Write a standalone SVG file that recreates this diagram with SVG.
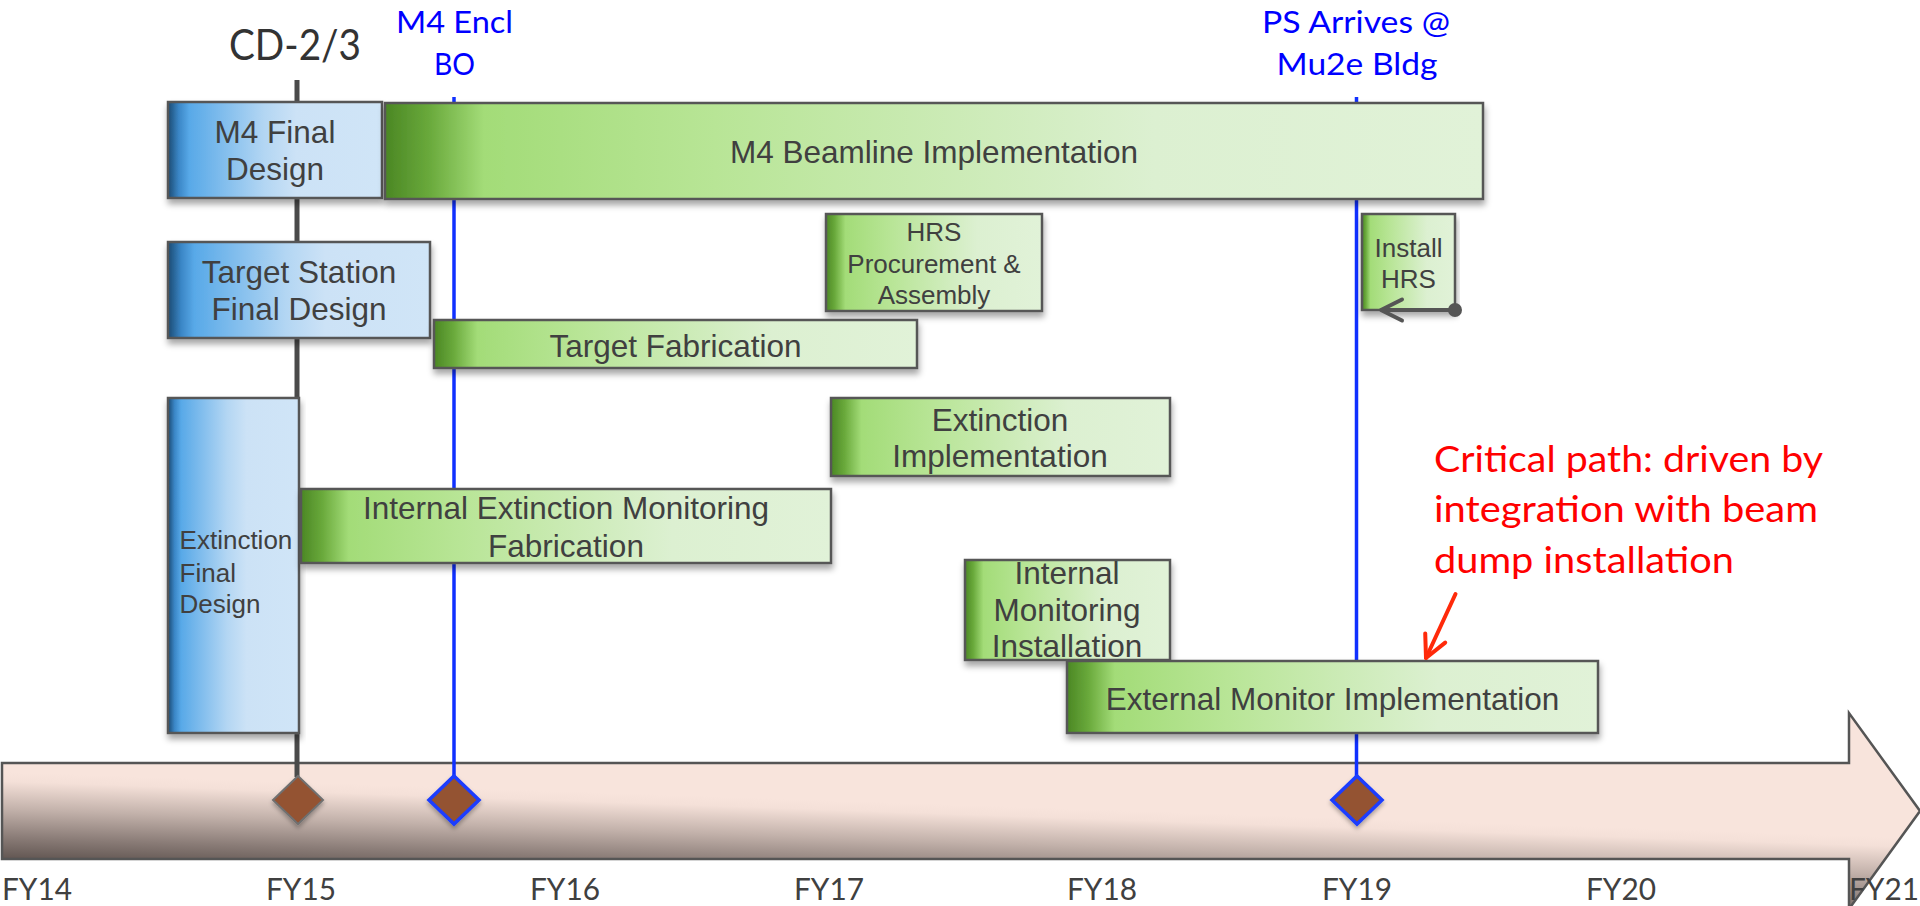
<svg xmlns="http://www.w3.org/2000/svg" width="1920" height="906" viewBox="0 0 1920 906">
  <style>
    .box { stroke: #575757; stroke-width: 2.5; filter: url(#sh); }
    .blue { fill: url(#gBlue); }
    .green { fill: url(#gGreen); }
    .lbl { font-family: "Liberation Sans", Arial, sans-serif; font-size: 31.5px; fill: #404040; text-anchor: middle; }
    .sm { font-size: 26px; }
    .cal { font-family: Lato, "Liberation Sans", sans-serif; text-anchor: middle; }
    .bluetxt { fill: #0000ff; font-size: 31px; }
    .fy { font-size: 30px; fill: #404040; }
    .note { fill: #ff0000; font-size: 37px; text-anchor: start; }
    .mline { stroke: #1030ff; stroke-width: 3.5; }
    .diamond { fill: #945233; }
  </style>
  <defs>
    <linearGradient id="gBlue" x1="0" y1="0" x2="1" y2="0">
      <stop offset="0" stop-color="#1b4a72"/>
      <stop offset="0.05" stop-color="#3a86c6"/>
      <stop offset="0.1" stop-color="#58a9e8"/>
      <stop offset="0.45" stop-color="#b3d6f3"/>
      <stop offset="0.6" stop-color="#cce2f6"/>
      <stop offset="1" stop-color="#d0e5f7"/>
    </linearGradient>
    <linearGradient id="gGreen" x1="0" y1="0" x2="1" y2="0">
      <stop offset="0" stop-color="#4b8724"/>
      <stop offset="0.04" stop-color="#69a93b"/>
      <stop offset="0.09" stop-color="#a3dc78"/>
      <stop offset="0.3" stop-color="#b8e596"/>
      <stop offset="0.7" stop-color="#dcf0d1"/>
      <stop offset="1" stop-color="#e1f2d8"/>
    </linearGradient>
    <!-- shading of the timeline bar: dark at the lower left, fading to pink -->
    <linearGradient id="gTime" gradientUnits="userSpaceOnUse" x1="0" y1="865" x2="3.2" y2="772">
      <stop offset="0" stop-color="#564b47"/>
      <stop offset="0.3" stop-color="#8a7c77"/>
      <stop offset="0.6" stop-color="#c2b1aa"/>
      <stop offset="0.9" stop-color="#f4e0d8"/>
      <stop offset="1" stop-color="#f8e4dc"/>
    </linearGradient>
    <filter id="sh" x="-5%" y="-10%" width="110%" height="140%">
      <feDropShadow dx="1" dy="5" stdDeviation="3" flood-color="#000" flood-opacity="0.35"/>
    </filter>
    <filter id="dsh" x="-30%" y="-30%" width="160%" height="160%">
      <feDropShadow dx="0" dy="3" stdDeviation="2" flood-color="#000" flood-opacity="0.3"/>
    </filter>
    <marker id="chev" markerUnits="userSpaceOnUse" viewBox="-26 -14 30 28" markerWidth="30" markerHeight="28" refX="0" refY="0" orient="auto">
      <path d="M -21 -10.5 L 0 0 L -21 10.5" fill="none" stroke="#555" stroke-width="4" stroke-linecap="round" stroke-linejoin="round"/>
    </marker>
    <marker id="dot" markerUnits="userSpaceOnUse" viewBox="-8 -8 16 16" markerWidth="16" markerHeight="16" refX="0" refY="0">
      <circle r="7" fill="#555"/>
    </marker>
    <marker id="redhead" markerUnits="userSpaceOnUse" viewBox="-26 -14 30 28" markerWidth="30" markerHeight="28" refX="0" refY="0" orient="auto">
      <path d="M -22 -11 L 0 0 L -22 11" fill="none" stroke="#ff2a0a" stroke-width="4" stroke-linecap="round" stroke-linejoin="round"/>
    </marker>
  </defs>

  <rect width="1920" height="906" fill="#ffffff"/>

  <!-- fiscal-year timeline arrow -->
  <g id="timeline">
    <path d="M 2 763 H 1849 V 713 L 1920 811 L 1849 909 V 859 H 2 Z" fill="url(#gTime)" stroke="#555" stroke-width="2.5"/>
    <g class="cal fy">
      <text x="37" y="900" textLength="70" lengthAdjust="spacingAndGlyphs">FY14</text>
      <text x="301" y="900" textLength="70" lengthAdjust="spacingAndGlyphs">FY15</text>
      <text x="565" y="900" textLength="70" lengthAdjust="spacingAndGlyphs">FY16</text>
      <text x="829" y="900" textLength="70" lengthAdjust="spacingAndGlyphs">FY17</text>
      <text x="1102" y="900" textLength="70" lengthAdjust="spacingAndGlyphs">FY18</text>
      <text x="1357" y="900" textLength="70" lengthAdjust="spacingAndGlyphs">FY19</text>
      <text x="1621" y="900" textLength="70" lengthAdjust="spacingAndGlyphs">FY20</text>
      <text x="1884" y="900" textLength="70" lengthAdjust="spacingAndGlyphs">FY21</text>
    </g>
  </g>

  <!-- milestones: guide line, diamond marker and caption -->
  <g id="ms-cd23">
    <line x1="297" y1="80" x2="297" y2="777" stroke="#4a4a4a" stroke-width="5"/>
    <polygon class="diamond" points="298,776 323,800 298,824 273,800" stroke="#707070" stroke-width="2" filter="url(#dsh)"/>
    <text class="cal" x="295" y="60" font-size="42" fill="#333" textLength="132" lengthAdjust="spacingAndGlyphs">CD-2/3</text>
  </g>
  <g id="ms-m4-encl">
    <line class="mline" x1="454" y1="97" x2="454" y2="777"/>
    <polygon class="diamond" points="454,776 479,800 454,824 429,800" stroke="#1a3cff" stroke-width="3.5" filter="url(#dsh)"/>
    <text class="cal bluetxt" x="454.5" y="32.7" textLength="117" lengthAdjust="spacingAndGlyphs">M4 Encl</text>
    <text class="cal bluetxt" x="454.5" y="75" textLength="41" lengthAdjust="spacingAndGlyphs">BO</text>
  </g>
  <g id="ms-ps-arrives">
    <line class="mline" x1="1356.5" y1="97" x2="1356.5" y2="777"/>
    <polygon class="diamond" points="1357,776 1382,800 1357,824 1332,800" stroke="#1a3cff" stroke-width="3.5" filter="url(#dsh)"/>
    <text class="cal bluetxt" x="1356" y="32.7" textLength="188" lengthAdjust="spacingAndGlyphs">PS Arrives @</text>
    <text class="cal bluetxt" x="1357" y="75" textLength="161" lengthAdjust="spacingAndGlyphs">Mu2e Bldg</text>
  </g>

  <!-- design activities (blue) -->
  <g id="n-m4-final-design">
    <rect class="box blue" x="168" y="102" width="214" height="96"/>
    <text class="lbl" x="275" y="142.7">M4 Final</text>
    <text class="lbl" x="275" y="180">Design</text>
  </g>
  <g id="n-target-station-design">
    <rect class="box blue" x="168" y="242" width="262" height="96"/>
    <text class="lbl" x="299" y="283.3">Target Station</text>
    <text class="lbl" x="299" y="320">Final Design</text>
  </g>
  <g id="n-extinction-design">
    <rect class="box blue" x="168" y="398" width="131" height="335"/>
    <text class="lbl sm" x="179.6" y="549.3" style="text-anchor:start">Extinction</text>
    <text class="lbl sm" x="179.6" y="581.7" style="text-anchor:start">Final</text>
    <text class="lbl sm" x="179.6" y="613.3" style="text-anchor:start">Design</text>
  </g>

  <!-- implementation activities (green) -->
  <g id="n-m4-beamline">
    <rect class="box green" x="385" y="103" width="1098" height="96"/>
    <text class="lbl" x="934" y="163.3">M4 Beamline Implementation</text>
  </g>
  <g id="n-hrs-procurement">
    <rect class="box green" x="826" y="214" width="216" height="97"/>
    <text class="lbl sm" x="934" y="240.7">HRS</text>
    <text class="lbl sm" x="934" y="272.7">Procurement &amp;</text>
    <text class="lbl sm" x="934" y="304">Assembly</text>
  </g>
  <g id="n-install-hrs">
    <rect class="box green" x="1362" y="214" width="93" height="96"/>
    <text class="lbl sm" x="1408.5" y="256.7">Install</text>
    <text class="lbl sm" x="1408.5" y="288.3">HRS</text>
  </g>
  <g id="n-target-fabrication">
    <rect class="box green" x="434" y="320" width="483" height="48"/>
    <text class="lbl" x="675.5" y="356.7">Target Fabrication</text>
  </g>
  <g id="n-extinction-impl">
    <rect class="box green" x="831" y="398" width="339" height="78"/>
    <text class="lbl" x="1000" y="430.7">Extinction</text>
    <text class="lbl" x="1000" y="467.3">Implementation</text>
  </g>
  <g id="n-int-ext-mon-fab">
    <rect class="box green" x="301" y="489" width="530" height="74"/>
    <text class="lbl" x="566" y="519">Internal Extinction Monitoring</text>
    <text class="lbl" x="566" y="556.7">Fabrication</text>
  </g>
  <g id="n-int-mon-install">
    <rect class="box green" x="965" y="560" width="205" height="100"/>
    <text class="lbl" x="1067" y="584">Internal</text>
    <text class="lbl" x="1067" y="620.7">Monitoring</text>
    <text class="lbl" x="1067" y="657.3">Installation</text>
  </g>
  <g id="n-ext-mon-impl">
    <rect class="box green" x="1067" y="661" width="531" height="72"/>
    <text class="lbl" x="1332.5" y="710">External Monitor Implementation</text>
  </g>

  <!-- callout note -->
  <g id="n-critical-path-note" class="cal note">
    <text x="1434" y="471.7" textLength="389" lengthAdjust="spacingAndGlyphs" style="text-anchor:start">Critical path: driven by</text>
    <text x="1434" y="521.7" textLength="384" lengthAdjust="spacingAndGlyphs" style="text-anchor:start">integration with beam</text>
    <text x="1434" y="572.7" textLength="300" lengthAdjust="spacingAndGlyphs" style="text-anchor:start">dump installation</text>
  </g>

  <!-- connectors -->
  <g id="connectors" fill="none">
    <line x1="1455" y1="310" x2="1381" y2="310" stroke="#555" stroke-width="4" marker-start="url(#dot)" marker-end="url(#chev)"/>
    <line x1="1455.5" y1="594" x2="1426" y2="658" stroke="#ff2a0a" stroke-width="4" stroke-linecap="round" marker-end="url(#redhead)"/>
  </g>
</svg>
